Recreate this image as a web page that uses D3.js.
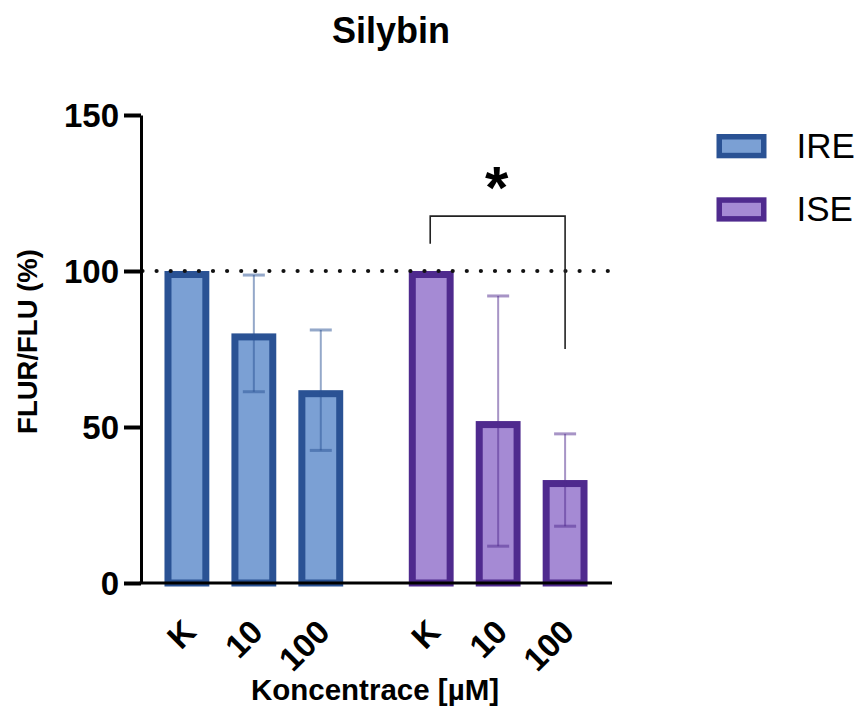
<!DOCTYPE html>
<html lang="cs">
<head>
  <meta charset="UTF-8">
  <title>Silybin</title>
  <script src="https://d3js.org/d3.v7.min.js"></script>
  <style>
    body { margin: 0; background: #fff; font-family: "Liberation Sans", Arial, sans-serif; }
  </style>
</head>
<body>
  <div id="chart"></div>

  <script>
    // Data
    const groups = ["IRE", "ISE"];
    const concentrations = ["K", "10", "100"];
    const ireMeans = [100, 80.0, 61.8];
    const ireSD = [0, 18.7, 19.3];
    const iseMeans = [100, 51.9, 33.0];
    const iseSD = [0, 40.1, 14.8];
    const yTicks = [0, 50, 100, 150];
    // significance bracket: ISE K vs ISE 100 (y values of top, left leg, right leg)
    const sigBracket = { group: "ISE", from: "K", to: "100", top: 117.6, left: 108.7, right: 75, label: "*" };

    const colors = {
      IRE: { fill: "#7ba0d4", stroke: "#2a5294" },
      ISE: { fill: "#a58ad4", stroke: "#4f2a8e" }
    };

    const width = 859, height = 706;
    const plot = { left: 141, right: 612, top: 115, bottom: 583 };

    const svg = d3.select("#chart").append("svg")
      .attr("width", width)
      .attr("height", height);

    const rows = [];
    groups.forEach((g, gi) => {
      const means = gi === 0 ? ireMeans : iseMeans;
      const sds = gi === 0 ? ireSD : iseSD;
      concentrations.forEach((c, ci) => rows.push({ group: g, conc: c, mean: means[ci], sd: sds[ci] }));
    });

    // Scales
    const x0 = d3.scaleBand()
      .domain(groups)
      .range([plot.left - 1, plot.right])
      .paddingInner(0.178)
      .paddingOuter(0.055);

    const x1 = d3.scaleBand()
      .domain(concentrations)
      .range([0, x0.bandwidth()])
      .paddingInner(0.33)
      .paddingOuter(0.165);

    const y = d3.scaleLinear()
      .domain([0, 150])
      .range([plot.bottom, plot.top]);

    const cx = d => x0(d.group) + x1(d.conc) + x1.bandwidth() / 2;

    // Bars (border drawn inside the bar outline)
    const sw = 7;
    svg.append("g").selectAll("rect")
      .data(rows)
      .join("rect")
      .attr("x", d => x0(d.group) + x1(d.conc) + sw / 2)
      .attr("y", d => y(d.mean) + sw / 2)
      .attr("width", x1.bandwidth() - sw)
      .attr("height", d => y(0) - y(d.mean) - sw / 2)
      .attr("fill", d => colors[d.group].fill)
      .attr("stroke", d => colors[d.group].stroke)
      .attr("stroke-width", sw);

    // Error bars
    const capW = 22;
    const err = svg.append("g")
      .selectAll("g")
      .data(rows.filter(d => d.sd > 0))
      .join("g")
      .attr("stroke", d => colors[d.group].stroke)
      .attr("stroke-opacity", 0.5)
      .attr("stroke-width", 2);
    err.append("line")
      .attr("x1", cx).attr("x2", cx)
      .attr("y1", d => y(d.mean + d.sd)).attr("y2", d => y(d.mean - d.sd));
    err.append("line")
      .attr("x1", d => cx(d) - capW / 2).attr("x2", d => cx(d) + capW / 2)
      .attr("y1", d => y(d.mean + d.sd)).attr("y2", d => y(d.mean + d.sd))
      .attr("stroke-width", 3);
    err.append("line")
      .attr("x1", d => cx(d) - capW / 2).attr("x2", d => cx(d) + capW / 2)
      .attr("y1", d => y(d.mean - d.sd)).attr("y2", d => y(d.mean - d.sd))
      .attr("stroke-width", 3);

    // Dotted reference line at 100 %
    svg.append("line")
      .attr("x1", plot.left + 1.5).attr("x2", plot.right)
      .attr("y1", y(100)).attr("y2", y(100))
      .attr("stroke", "#111")
      .attr("stroke-width", 4.2)
      .attr("stroke-linecap", "round")
      .attr("stroke-dasharray", "0 14.1");

    // Y axis
    const yAxis = svg.append("g")
      .attr("transform", `translate(${plot.left},0)`)
      .call(d3.axisLeft(y).tickValues(yTicks).tickSize(17).tickSizeOuter(0).tickPadding(5));
    yAxis.select(".domain").attr("stroke", "#000").attr("stroke-width", 3);
    yAxis.selectAll(".tick line").attr("stroke", "#000").attr("stroke-width", 4);
    yAxis.selectAll(".tick text")
      .attr("fill", "#000")
      .attr("dy", "0.36em")
      .style("font-family", "'Liberation Sans', Arial, sans-serif")
      .style("font-weight", "bold")
      .style("font-size", "33px");

    // X axis line
    svg.append("line")
      .attr("x1", plot.left - 1.5).attr("x2", plot.right)
      .attr("y1", y(0)).attr("y2", y(0))
      .attr("stroke", "#000")
      .attr("stroke-width", 3);

    // X tick labels, one axis per group
    groups.forEach(g => {
      const ax = svg.append("g")
        .attr("transform", `translate(${x0(g)},${y(0)})`)
        .call(d3.axisBottom(x1).tickSize(0).tickPadding(0));
      ax.select(".domain").remove();
      ax.selectAll(".tick text")
        .attr("fill", "#000")
        .attr("text-anchor", "end")
        .attr("x", 0).attr("y", 0).attr("dy", null)
        .attr("transform", "translate(11,51) rotate(-45)")
        .style("font-family", "'Liberation Sans', Arial, sans-serif")
        .style("font-weight", "bold")
        .style("font-size", "33px");
    });

    // Significance bracket
    const bx1 = x0(sigBracket.group) + x1(sigBracket.from) + x1.bandwidth() / 2 - 1;
    const bx2 = x0(sigBracket.group) + x1(sigBracket.to) + x1.bandwidth() / 2;
    svg.append("path")
      .attr("d", `M${bx1},${y(sigBracket.left)}V${y(sigBracket.top)}H${bx2}V${y(sigBracket.right)}`)
      .attr("fill", "none")
      .attr("stroke", "#222")
      .attr("stroke-width", 1.6);
    svg.append("text")
      .attr("x", (bx1 + bx2) / 2 - 1)
      .attr("y", y(sigBracket.top) - 8)
      .attr("text-anchor", "middle")
      .style("font-weight", "bold")
      .style("font-size", "60px")
      .text(sigBracket.label);

    // Title
    svg.append("text")
      .attr("x", 391)
      .attr("y", 43)
      .attr("text-anchor", "middle")
      .style("font-weight", "bold")
      .style("font-size", "36px")
      .text("Silybin");

    // Axis titles
    svg.append("text")
      .attr("transform", "translate(36.5,341.5) rotate(-90)")
      .attr("text-anchor", "middle")
      .style("font-weight", "bold")
      .style("font-size", "27.5px")
      .text("FLUR/FLU (%)");

    svg.append("text")
      .attr("x", 375)
      .attr("y", 700)
      .attr("text-anchor", "middle")
      .style("font-weight", "bold")
      .style("font-size", "29.5px")
      .text("Koncentrace [µM]");

    // Legend
    const legend = svg.append("g")
      .selectAll("g")
      .data(groups)
      .join("g")
      .attr("transform", (d, i) => `translate(716.5,${134 + i * 63.3})`);
    legend.append("rect")
      .attr("x", 2.75).attr("y", 2.75)
      .attr("width", 44.5).attr("height", 18.8)
      .attr("fill", d => colors[d].fill)
      .attr("stroke", d => colors[d].stroke)
      .attr("stroke-width", 5.5);
    legend.append("text")
      .attr("x", 80)
      .attr("y", 23.5)
      .style("font-size", "35px")
      .style("fill", "#000")
      .text(d => d);
  </script>
</body>
</html>
